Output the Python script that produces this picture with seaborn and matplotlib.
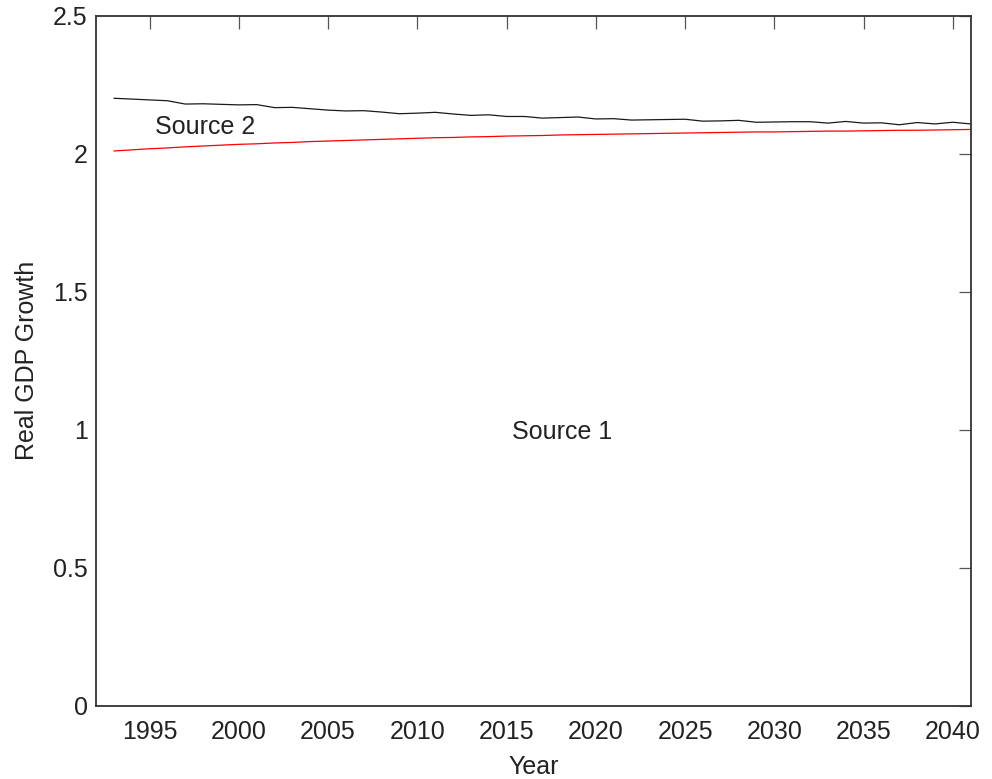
import numpy as np
import pandas as pd
import matplotlib
matplotlib.use("Agg")
import matplotlib.pyplot as plt
import seaborn as sns

# data
years = list(range(1993, 2042))
source2 = [2.201, 2.198, 2.195, 2.192, 2.180, 2.181, 2.179, 2.177, 2.178, 2.167,
           2.168, 2.163, 2.158, 2.155, 2.156, 2.151, 2.145, 2.147, 2.150, 2.144,
           2.139, 2.141, 2.135, 2.135, 2.129, 2.131, 2.133, 2.126, 2.127, 2.122,
           2.123, 2.124, 2.125, 2.118, 2.119, 2.121, 2.114, 2.115, 2.116, 2.116,
           2.111, 2.117, 2.111, 2.112, 2.105, 2.113, 2.108, 2.114, 2.108]
source1 = [2.010, 2.014, 2.018, 2.021, 2.025, 2.028, 2.031, 2.034, 2.036, 2.039,
           2.041, 2.044, 2.046, 2.048, 2.050, 2.052, 2.054, 2.056, 2.058, 2.059,
           2.061, 2.062, 2.064, 2.065, 2.066, 2.068, 2.069, 2.070, 2.071, 2.072,
           2.073, 2.074, 2.075, 2.076, 2.077, 2.078, 2.079, 2.079, 2.080, 2.081,
           2.082, 2.082, 2.083, 2.084, 2.085, 2.085, 2.086, 2.087, 2.088]
x_ticks = [1995, 2000, 2005, 2010, 2015, 2020, 2025, 2030, 2035, 2040]
y_ticks = [0, 0.5, 1, 1.5, 2, 2.5]

df = pd.DataFrame({
    "Year": years * 2,
    "growth": source1 + source2,
    "source": ["Source 1"] * len(years) + ["Source 2"] * len(years),
})

sns.set_style("white")
plt.rcParams["font.family"] = ["Liberation Sans", "DejaVu Sans"]
fs = 18

fig = plt.figure(figsize=(9.92, 7.79), dpi=100)
ax = fig.add_axes([0.0968, 0.0941, 0.8817, 0.8857])

sns.lineplot(data=df, x="Year", y="growth", hue="source",
             palette={"Source 1": "#ff0000", "Source 2": "#1a1a1a"},
             linewidth=0.9, legend=False, ax=ax)

ax.set_xlim(1992, 2041)
ax.set_ylim(0, 2.5)
ax.set_xticks(x_ticks)
ax.set_yticks(y_ticks)
ax.set_yticklabels(["0", "0.5", "1", "1.5", "2", "2.5"])
ax.tick_params(direction="in", length=9, width=0.9, labelsize=fs, color="#555555",
               labelcolor="#222222", top=True, right=True, pad=6)
ax.tick_params(axis="x", pad=10)
for s in ax.spines.values():
    s.set_linewidth(1.3)
    s.set_color("#333333")
ax.set_xlabel("Year", fontsize=fs, labelpad=8, color="#222222")
ax.set_ylabel("Real GDP Growth", fontsize=fs, labelpad=10, color="#222222")

ax.text(1998.1, 2.097, "Source 2", fontsize=fs, ha="center", va="center", color="#222222")
ax.text(2018.1, 0.992, "Source 1", fontsize=fs, ha="center", va="center", color="#222222")

fig.savefig("out.png", dpi=100)
